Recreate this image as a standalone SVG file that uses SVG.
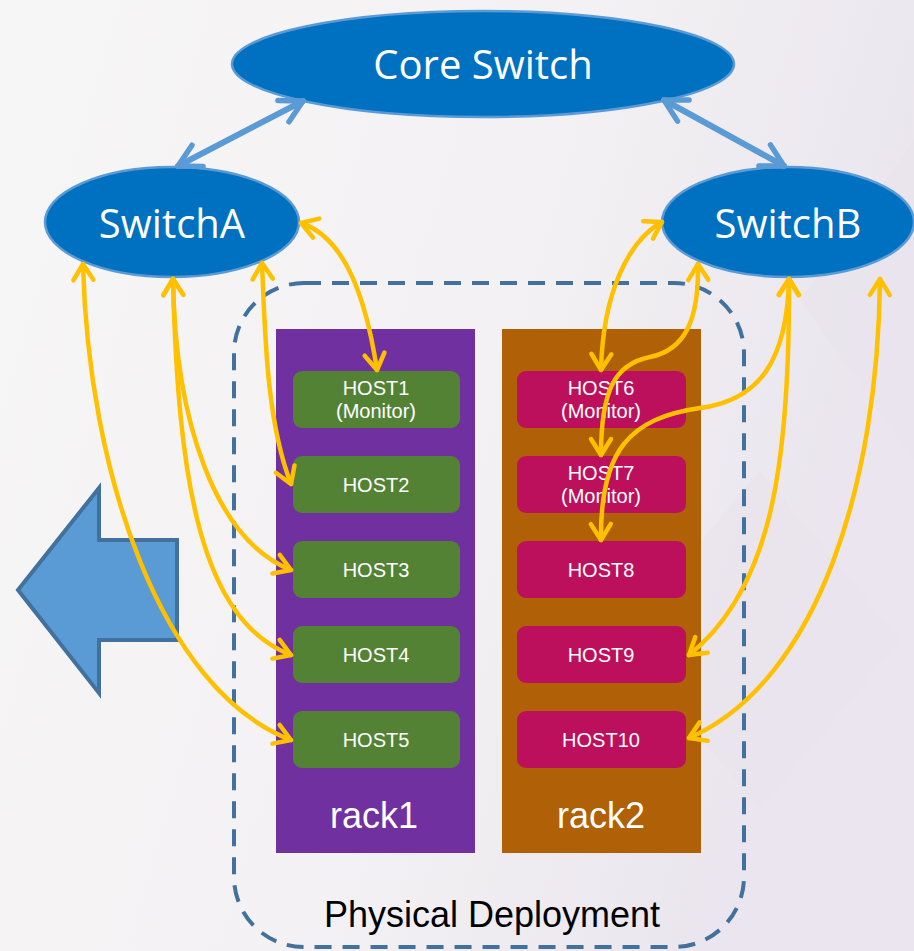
<svg xmlns="http://www.w3.org/2000/svg" width="914" height="951" viewBox="0 0 914 951">
  <defs>
    <linearGradient id="bg" x1="0" y1="0" x2="1" y2="0.3">
      <stop offset="0" stop-color="#F7F6F6"/>
      <stop offset="0.6" stop-color="#F3F1F3"/>
      <stop offset="1" stop-color="#EAE5EE"/>
    </linearGradient>
    <marker id="yArrow" markerUnits="userSpaceOnUse" markerWidth="34" markerHeight="34" viewBox="-22 -17 34 34" refX="0" refY="0" orient="auto-start-reverse">
      <path d="M -16 -10 L 0 0 L -16 10" fill="none" stroke="#FFC000" stroke-width="4.5" stroke-linecap="round" stroke-linejoin="round"/>
    </marker>
    <marker id="bArrow" markerUnits="userSpaceOnUse" markerWidth="44" markerHeight="44" viewBox="-28 -22 44 44" refX="0" refY="0" orient="auto-start-reverse">
      <path d="M -22 -12 L 0 0 L -22 12" fill="none" stroke="#5B9BD5" stroke-width="5.5" stroke-linecap="round" stroke-linejoin="round"/>
    </marker>
  </defs>
  <style>
    .switch { fill: #0070C0; stroke: #5B9BD5; stroke-width: 2.5; }
    .switch-label { font-family: "Open Sans", "Noto Sans", sans-serif; font-size: 40px; fill: #FFFFFF; text-anchor: middle; }
    .rack1 { fill: #7030A0; }
    .rack2 { fill: #B06006; }
    .host-a { fill: #548235; }
    .host-b { fill: #BC105C; }
    .host-label { font-family: "Liberation Sans", Arial, sans-serif; font-size: 20px; fill: #FFFFFF; text-anchor: middle; }
    .rack-label { font-family: "Liberation Sans", Arial, sans-serif; font-size: 36px; fill: #FFFFFF; text-anchor: middle; }
    .zone { fill: none; stroke: #41719C; stroke-width: 4; stroke-dasharray: 17 11; }
    .zone-label { font-family: "Liberation Sans", Arial, sans-serif; font-size: 36px; fill: #000000; text-anchor: middle; }
    .link { fill: none; stroke: #FFC000; stroke-width: 4.5; stroke-linecap: round; marker-start: url(#yArrow); marker-end: url(#yArrow); }
    .uplink { fill: none; stroke: #5B9BD5; stroke-width: 6; stroke-linecap: round; marker-start: url(#bArrow); marker-end: url(#bArrow); }
  </style>

  <!-- background -->
  <rect x="0" y="0" width="914" height="951" fill="url(#bg)"/>
  <g fill="#E8E3EC" opacity="0.45">
    <polygon points="914,140 800,300 914,460"/>
    <polygon points="760,470 900,640 760,810 620,640"/>
  </g>

  <!-- deployment zone -->
  <g id="physical-deployment">
    <rect class="zone" x="234" y="283" width="510" height="664" rx="70" ry="70"/>
    <text class="zone-label" x="492" y="927">Physical Deployment</text>
  </g>

  <!-- racks -->
  <g id="rack1">
    <rect class="rack1" x="276" y="329" width="199" height="524"/>
    <text class="rack-label" x="374" y="828">rack1</text>
  </g>
  <g id="rack2">
    <rect class="rack2" x="502" y="329" width="199" height="524"/>
    <text class="rack-label" x="601" y="828">rack2</text>
  </g>

  <!-- hosts in rack1 -->
  <g id="host1">
    <rect class="host-a" x="293" y="371" width="167" height="57" rx="9"/>
    <text class="host-label" x="376" y="395">HOST1</text>
    <text class="host-label" x="376" y="418">(Monitor)</text>
  </g>
  <g id="host2">
    <rect class="host-a" x="293" y="456" width="167" height="57" rx="9"/>
    <text class="host-label" x="376" y="492">HOST2</text>
  </g>
  <g id="host3">
    <rect class="host-a" x="293" y="541" width="167" height="57" rx="9"/>
    <text class="host-label" x="376" y="577">HOST3</text>
  </g>
  <g id="host4">
    <rect class="host-a" x="293" y="626" width="167" height="57" rx="9"/>
    <text class="host-label" x="376" y="662">HOST4</text>
  </g>
  <g id="host5">
    <rect class="host-a" x="293" y="711" width="167" height="57" rx="9"/>
    <text class="host-label" x="376" y="747">HOST5</text>
  </g>

  <!-- hosts in rack2 -->
  <g id="host6">
    <rect class="host-b" x="517" y="371" width="169" height="57" rx="9"/>
    <text class="host-label" x="601" y="395">HOST6</text>
    <text class="host-label" x="601" y="418">(Monitor)</text>
  </g>
  <g id="host7">
    <rect class="host-b" x="517" y="456" width="169" height="57" rx="9"/>
    <text class="host-label" x="601" y="480">HOST7</text>
    <text class="host-label" x="601" y="503">(Monitor)</text>
  </g>
  <g id="host8">
    <rect class="host-b" x="517" y="541" width="169" height="57" rx="9"/>
    <text class="host-label" x="601" y="577">HOST8</text>
  </g>
  <g id="host9">
    <rect class="host-b" x="517" y="626" width="169" height="57" rx="9"/>
    <text class="host-label" x="601" y="662">HOST9</text>
  </g>
  <g id="host10">
    <rect class="host-b" x="517" y="711" width="169" height="57" rx="9"/>
    <text class="host-label" x="601" y="747">HOST10</text>
  </g>

  <!-- switches -->
  <g id="core-switch">
    <ellipse class="switch" cx="483" cy="64" rx="251" ry="53"/>
    <text class="switch-label" x="483" y="79">Core Switch</text>
  </g>
  <g id="switch-a">
    <ellipse class="switch" cx="172" cy="222" rx="127" ry="55"/>
    <text class="switch-label" x="172" y="238">SwitchA</text>
  </g>
  <g id="switch-b">
    <ellipse class="switch" cx="788" cy="222" rx="126" ry="55"/>
    <text class="switch-label" x="788" y="238">SwitchB</text>
  </g>

  <!-- big left arrow -->
  <g id="left-arrow">
    <polygon points="18,590 99,488 99,540 177,540 177,640 99,640 99,693" fill="#5B9BD5" stroke="#41719C" stroke-width="4" stroke-linejoin="miter"/>
  </g>

  <!-- connectors -->
  <g id="connectors">
    <path class="uplink" d="M 303 101 L 178 166"/>
    <path class="uplink" d="M 664 100 L 784 166"/>

    <path class="link" d="M 301 223 C 340 236 364 285 377 370"/>
    <path class="link" d="M 262 263 C 265 330 266 420 291 484"/>
    <path class="link" d="M 173 279 C 175 420 215 540 291 570"/>
    <path class="link" d="M 173 279 C 178 480 200 620 291 655"/>
    <path class="link" d="M 83 264 C 88 470 160 690 291 740"/>

    <path class="link" d="M 662 222 C 630 240 603 290 601 370"/>
    <path class="link" d="M 698 264 C 699 320 685 350 650 357 C 615 364 601 390 601 455"/>
    <path class="link" d="M 789 279 C 787 360 760 400 700 408 C 630 418 600 450 601 540"/>
    <path class="link" d="M 789 279 C 790 470 770 590 689 655"/>
    <path class="link" d="M 880 279 C 878 480 820 680 689 738"/>
  </g>
</svg>
